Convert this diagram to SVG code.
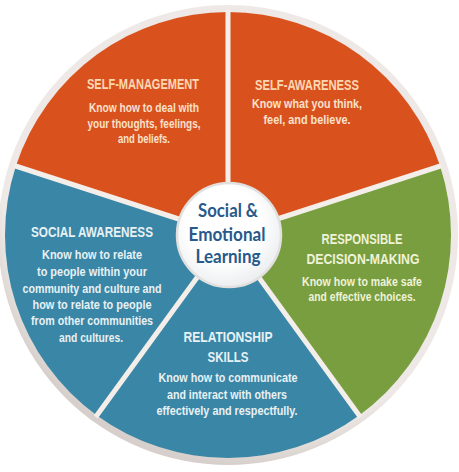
<svg xmlns="http://www.w3.org/2000/svg" width="459" height="472" viewBox="0 0 459 472">
<defs>
<radialGradient id="rim" cx="0.55" cy="0.4" r="0.6">
<stop offset="0.9" stop-color="#eee9e6"/>
<stop offset="1" stop-color="#d6cfcc"/>
</radialGradient>
<radialGradient id="hub" cx="0.45" cy="0.4" r="0.6">
<stop offset="0.6" stop-color="#ffffff"/>
<stop offset="1" stop-color="#eceef0"/>
</radialGradient>
<style>
.t{font-family:"Liberation Sans",Arial,sans-serif;font-weight:bold;font-size:14.5px;text-anchor:middle}
.b{font-family:"Liberation Sans",Arial,sans-serif;font-weight:bold;font-size:13.2px;text-anchor:middle}
.or .t{fill:#fdd8b4}
.or .b{fill:#fae1cc}
.bl .t,.bl .b{fill:#e8f1f4}
.gr .t,.gr .b{fill:#eff2d8}
.c{font-family:Lato,"Open Sans",sans-serif;font-size:18px;font-weight:bold;fill:#27598b;text-anchor:middle}
.div{stroke:#f3eee9;stroke-width:5;fill:none}
</style>
</defs>
<rect width="459" height="472" fill="#ffffff"/>
<circle cx="228" cy="235" r="230" fill="url(#rim)"/>

<g id="self-awareness" class="or">
<path d="M228,235 L228,12 A223,223 0 0 1 440.09,166.09 Z" fill="#d9521d"/>
<text class="t" x="307" y="90" textLength="104" lengthAdjust="spacingAndGlyphs">SELF-AWARENESS</text>
<text class="b" x="307" y="108" textLength="110" lengthAdjust="spacingAndGlyphs">Know what you think,</text>
<text class="b" x="307" y="123.5" textLength="87" lengthAdjust="spacingAndGlyphs">feel, and believe.</text>
</g>

<g id="responsible-decision-making" class="gr">
<path d="M228,235 L440.09,166.09 A223,223 0 0 1 359.08,415.41 Z" fill="#789e3f"/>
<text class="t" x="362" y="244" textLength="81" lengthAdjust="spacingAndGlyphs">RESPONSIBLE</text>
<text class="t" x="363" y="264" textLength="113" lengthAdjust="spacingAndGlyphs">DECISION-MAKING</text>
<text class="b" x="362" y="286" textLength="120" lengthAdjust="spacingAndGlyphs">Know how to make safe</text>
<text class="b" x="362" y="301" textLength="107" lengthAdjust="spacingAndGlyphs">and effective choices.</text>
</g>

<g id="relationship-skills" class="bl">
<path d="M228,235 L359.08,415.41 A223,223 0 0 1 96.92,415.41 Z" fill="#3a86a6"/>
<text class="t" x="228" y="342" textLength="89" lengthAdjust="spacingAndGlyphs">RELATIONSHIP</text>
<text class="t" x="228" y="362" textLength="41" lengthAdjust="spacingAndGlyphs">SKILLS</text>
<text class="b" x="228" y="382" textLength="139" lengthAdjust="spacingAndGlyphs">Know how to communicate</text>
<text class="b" x="227" y="399" textLength="120" lengthAdjust="spacingAndGlyphs">and interact with others</text>
<text class="b" x="227" y="415" textLength="141" lengthAdjust="spacingAndGlyphs">effectively and respectfully.</text>
</g>

<g id="social-awareness" class="bl">
<path d="M228,235 L96.92,415.41 A223,223 0 0 1 15.91,166.09 Z" fill="#3a86a6"/>
<text class="t" x="92" y="237" textLength="122" lengthAdjust="spacingAndGlyphs">SOCIAL AWARENESS</text>
<text class="b" x="92" y="259" textLength="100" lengthAdjust="spacingAndGlyphs">Know how to relate</text>
<text class="b" x="92" y="276" textLength="110" lengthAdjust="spacingAndGlyphs">to people within your</text>
<text class="b" x="92" y="293" textLength="139" lengthAdjust="spacingAndGlyphs">community and culture and</text>
<text class="b" x="92" y="309" textLength="119" lengthAdjust="spacingAndGlyphs">how to relate to people</text>
<text class="b" x="92" y="325" textLength="122" lengthAdjust="spacingAndGlyphs">from other communities</text>
<text class="b" x="91" y="342" textLength="64" lengthAdjust="spacingAndGlyphs">and cultures.</text>
</g>

<g id="self-management" class="or">
<path d="M228,235 L15.91,166.09 A223,223 0 0 1 228,12 Z" fill="#d9521d"/>
<text class="t" x="143" y="89" textLength="112" lengthAdjust="spacingAndGlyphs">SELF-MANAGEMENT</text>
<text class="b" x="144" y="111.5" textLength="110" lengthAdjust="spacingAndGlyphs">Know how to deal with</text>
<text class="b" x="144" y="127.5" textLength="113" lengthAdjust="spacingAndGlyphs">your thoughts, feelings,</text>
<text class="b" x="144" y="143" textLength="52" lengthAdjust="spacingAndGlyphs">and beliefs.</text>
</g>

<g id="connectors">
<line class="div" x1="228" y1="235" x2="228" y2="10"/>
<line class="div" x1="228" y1="235" x2="442" y2="165.5"/>
<line class="div" x1="228" y1="235" x2="360.3" y2="417"/>
<line class="div" x1="228" y1="235" x2="95.7" y2="417"/>
<line class="div" x1="228" y1="235" x2="14" y2="165.5"/>
</g>

<g id="center">
<circle cx="229" cy="235" r="52" fill="url(#hub)" stroke="#e2e0df" stroke-width="2.5"/>
<text class="c" x="228" y="217" textLength="60" lengthAdjust="spacingAndGlyphs">Social &amp;</text>
<text class="c" x="227" y="241" textLength="77" lengthAdjust="spacingAndGlyphs">Emotional</text>
<text class="c" x="228" y="263" textLength="65" lengthAdjust="spacingAndGlyphs">Learning</text>
</g>
</svg>
